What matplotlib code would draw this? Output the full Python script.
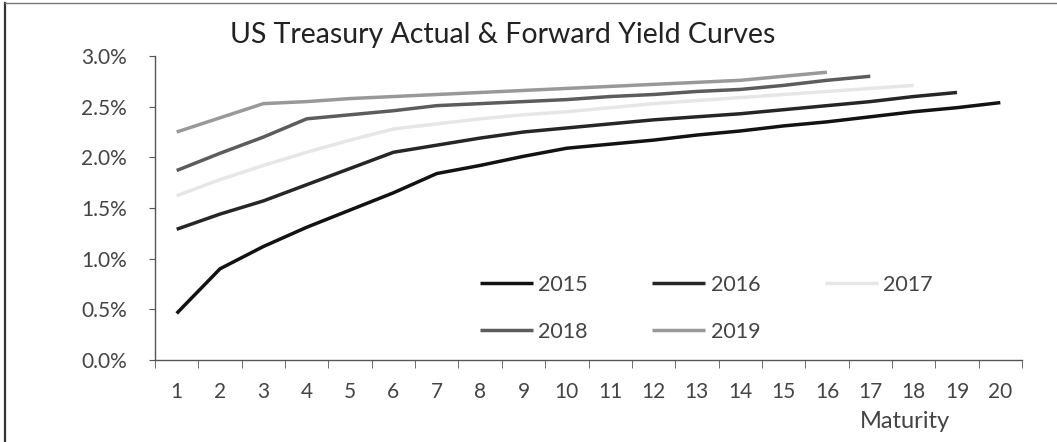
import matplotlib.pyplot as plt
from matplotlib.lines import Line2D

# yields in percent, by maturity (years)
maturity = list(range(1, 21))
y2015 = [0.46, 0.90, 1.12, 1.31, 1.48, 1.65, 1.84, 1.92, 2.01, 2.09,
         2.13, 2.17, 2.22, 2.26, 2.31, 2.35, 2.40, 2.45, 2.49, 2.54]
y2016 = [1.29, 1.44, 1.57, 1.73, 1.89, 2.05, 2.12, 2.19, 2.25, 2.29,
         2.33, 2.37, 2.40, 2.43, 2.47, 2.51, 2.55, 2.60, 2.64]
y2017 = [1.62, 1.78, 1.92, 2.05, 2.17, 2.28, 2.33, 2.38, 2.42, 2.45,
         2.49, 2.53, 2.56, 2.59, 2.62, 2.65, 2.68, 2.71]
y2018 = [1.87, 2.04, 2.20, 2.38, 2.42, 2.46, 2.51, 2.53, 2.55, 2.57,
         2.60, 2.62, 2.65, 2.67, 2.71, 2.76, 2.80]
y2019 = [2.25, 2.39, 2.53, 2.55, 2.58, 2.60, 2.62, 2.64, 2.66, 2.68,
         2.70, 2.72, 2.74, 2.76, 2.80, 2.84]

series = [('2015', y2015, '#121212'),
          ('2016', y2016, '#262626'),
          ('2017', y2017, '#e6e6e6'),
          ('2018', y2018, '#5c5c5c'),
          ('2019', y2019, '#999999')]

plt.rcParams['font.family'] = ['Lato', 'DejaVu Sans']

fig = plt.figure(figsize=(10.57, 4.42), dpi=100)
ax = fig.add_axes([155/1057, 1-360/442, 867/1057, 304/442])

handles = {}
for name, vals, col in series:
    ln, = ax.plot(maturity[:len(vals)], [v/100 for v in vals], color=col, lw=2.5,
                  solid_capstyle='butt', label=name)
    handles[name] = ln

ax.set_xlim(0.5, 20.5)
ax.set_ylim(0, 0.03)
ax.set_yticks([i*0.005 for i in range(7)])
ax.set_yticklabels(['%.1f%%' % (i*0.5) for i in range(7)])
ax.set_xticks(maturity)
ax.set_xticks([i + 0.5 for i in range(0, 21)], minor=True)
ax.tick_params(axis='x', which='major', length=0, pad=16, labelsize=15, labelcolor='#444444')
ax.tick_params(axis='x', which='minor', length=6, color='#555555', direction='out')
ax.tick_params(axis='y', length=4, color='#555555', labelsize=15, labelcolor='#444444', pad=16)

for s in ['top', 'right']:
    ax.spines[s].set_visible(False)
for s in ['left', 'bottom']:
    ax.spines[s].set_color('#555555')
    ax.spines[s].set_linewidth(1.0)

order = ['2015', '2018', '2016', '2019', '2017']
leg = ax.legend([handles[k] for k in order], order, ncol=3, frameon=False,
                loc='upper left', bbox_to_anchor=(0.375, 0.28),
                borderpad=0, borderaxespad=0,
                fontsize=15.5, handlelength=2.45, handletextpad=0.25,
                columnspacing=3.0, labelspacing=1.25)
for t in leg.get_texts():
    t.set_color('#444444')

fig.text(0.476, 0.92, 'US Treasury Actual & Forward Yield Curves', ha='center', va='center',
         fontsize=20.5, color='#222222')
fig.text(0.856, 0.047, 'Maturity', ha='center', va='center', fontsize=17, color='#444444')

# scanned page border
fig.add_artist(Line2D([0.005, 0.005], [0.0, 0.993], color='#333333', lw=1.6))
fig.add_artist(Line2D([0.005, 1.0], [0.993, 0.993], color='#777777', lw=1.0))

fig.savefig('out.png', dpi=100)
